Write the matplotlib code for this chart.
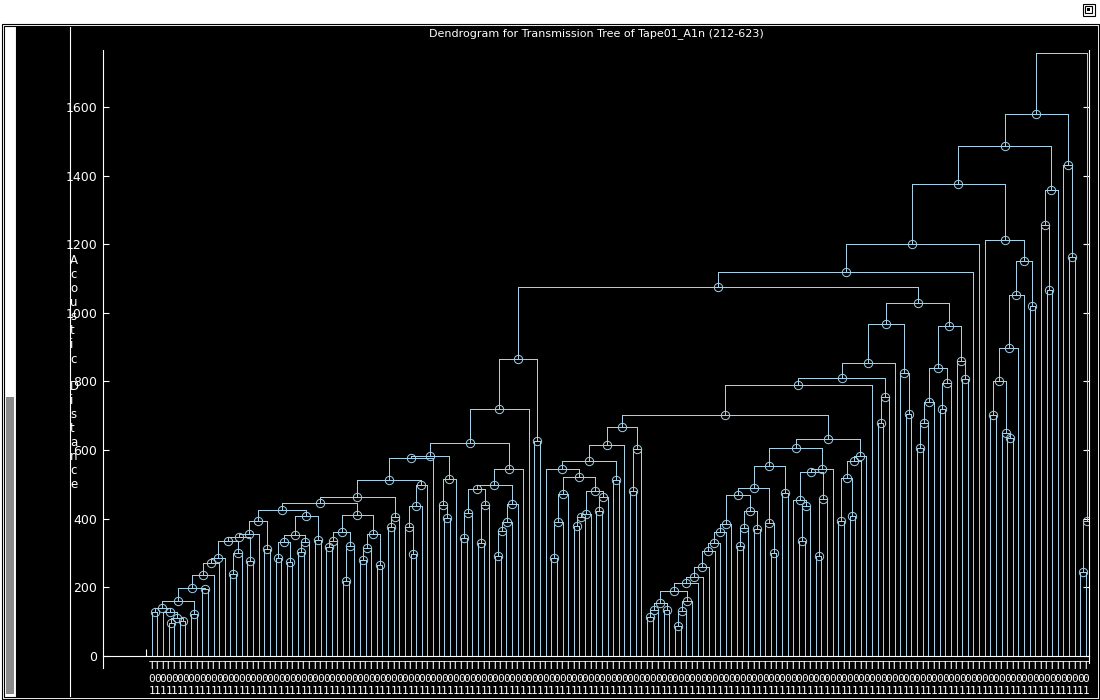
import matplotlib
matplotlib.use("Agg")
import matplotlib.pyplot as plt
import matplotlib.transforms as mtransforms
from matplotlib import font_manager
from matplotlib.collections import LineCollection
from matplotlib.patches import Rectangle

TITLE = "Dendrogram for Transmission Tree of Tape01_A1n (212-623)"
Y_LABEL = "Acoustic Distance"
Y_TICKS = [0, 200, 400, 600, 800, 1000, 1200, 1400, 1600]
LEAF_LABEL_ROWS = ["T", "0", "1"]

# merges: (node, left child, right child, merge height); "L" = a leaf
MERGES_A = [
    ("a1", "L", "L", 129), ("a2", "L", "L", 95), ("a3", "L", "L", 103),
    ("a4", "a2", "a3", 110), ("a5", "L", "a4", 129), ("a6", "a1", "a5", 140),
    ("a7", "L", "L", 121), ("a8", "a6", "a7", 160), ("a9", "L", "L", 195),
    ("a10", "a8", "a9", 198), ("a11", "a10", "L", 236), ("a12", "a11", "L", 270),
    ("a13", "a12", "L", 285), ("a14", "L", "L", 238), ("a15", "a14", "L", 300),
    ("a16", "a13", "a15", 334), ("a17", "L", "L", 277), ("a18", "a16", "a17", 348),
    ("a19", "a18", "L", 355), ("a20", "L", "L", 311), ("a21", "a19", "a20", 393),
    ("a22", "L", "L", 285), ("a23", "L", "L", 273), ("a24", "a22", "a23", 331),
    ("a25", "L", "L", 302), ("a26", "a25", "L", 331), ("a27", "a24", "a26", 353),
    ("a28", "L", "L", 338), ("a29", "a27", "a28", 409), ("a30", "a21", "a29", 425),
    ("a31", "L", "L", 319), ("a32", "a31", "L", 336), ("a33", "L", "L", 219),
    ("a34", "a33", "L", 322), ("a35", "a32", "a34", 362), ("a36", "L", "L", 279),
    ("a37", "a36", "L", 316), ("a38", "L", "L", 265), ("a39", "a37", "a38", 355),
    ("a40", "a35", "a39", 411), ("a41", "a30", "a40", 445), ("a42", "L", "L", 377),
    ("a43", "a42", "L", 404), ("a44", "a41", "a43", 462), ("a45", "L", "L", 297),
    ("a46", "L", "a45", 375), ("a47", "a46", "L", 437), ("a48", "a47", "L", 497),
    ("a49", "a44", "a48", 513), ("a50", "a49", "L", 576), ("a51", "L", "L", 401),
    ("a52", "L", "a51", 439), ("a53", "a52", "L", 515), ("a54", "a50", "a53", 583),
    ("a55", "L", "L", 344), ("a56", "a55", "L", 418), ("a57", "L", "L", 328),
    ("a58", "a57", "L", 439), ("a59", "a56", "a58", 486), ("a60", "L", "L", 292),
    ("a61", "a60", "L", 364), ("a62", "a61", "L", 391), ("a63", "a62", "L", 442),
    ("a64", "a59", "a63", 497), ("a65", "a64", "L", 544), ("a66", "a54", "a65", 620),
    ("a67", "a66", "L", 719), ("a68", "L", "L", 626), ("a69", "a67", "a68", 865),
]

MERGES_B1 = [
    ("b1", "L", "L", 285), ("b2", "b1", "L", 391), ("b3", "b2", "L", 472),
    ("b4", "L", "L", 380), ("b5", "b4", "L", 404), ("b6", "b5", "L", 413),
    ("b7", "L", "L", 423), ("b8", "b7", "L", 462), ("b9", "b6", "b8", 481),
    ("b10", "b3", "b9", 521), ("b11", "L", "b10", 544), ("b12", "L", "L", 513),
    ("b13", "b11", "b12", 568), ("b14", "b13", "L", 614), ("b15", "L", "L", 481),
    ("b16", "b15", "L", 602), ("b17", "b14", "b16", 666),
]

MERGES_B2 = [
    ("c1", "L", "L", 113), ("c2", "c1", "L", 134), ("c3", "L", "L", 134),
    ("c4", "c2", "c3", 155), ("c5", "L", "L", 88), ("c6", "c5", "L", 132),
    ("c7", "c6", "L", 161), ("c8", "c4", "c7", 190), ("c9", "c8", "L", 214),
    ("c10", "c9", "L", 231), ("c11", "c10", "L", 258), ("c12", "c11", "L", 306),
    ("c13", "c12", "L", 328), ("c14", "c13", "L", 362), ("c15", "c14", "L", 385),
    ("c16", "L", "L", 321), ("c17", "c16", "L", 372), ("c18", "L", "L", 369),
    ("c19", "c17", "c18", 423), ("c20", "c15", "c19", 469), ("c21", "L", "L", 299),
    ("c22", "L", "c21", 388), ("c23", "c20", "c22", 489), ("c24", "L", "L", 476),
    ("c25", "c23", "c24", 554), ("c26", "L", "L", 334), ("c27", "c26", "L", 437),
    ("c28", "L", "c27", 455), ("c29", "L", "L", 291), ("c30", "c29", "L", 457),
    ("c31", "c28", "c30", 536), ("c32", "c31", "L", 544), ("c33", "c25", "c32", 605),
    ("c34", "L", "L", 394), ("c35", "L", "L", 408), ("c36", "c34", "c35", 518),
    ("c37", "c36", "L", 568), ("c38", "c37", "L", 583), ("c39", "c33", "c38", 631),
]

MERGES_TOP = [
    ("r1", "b17", "c39", 702), ("r2", "r1", "L", 790), ("r3", "L", "L", 678),
    ("r4", "r3", "L", 756), ("r5", "r2", "r4", 809), ("r6", "r5", "L", 853),
    ("r7", "L", "L", 704), ("r8", "L", "r7", 824), ("r9", "r6", "r8", 967),
    ("r10", "L", "L", 607), ("r11", "r10", "L", 680), ("r12", "r11", "L", 741),
    ("r13", "L", "L", 719), ("r14", "r13", "L", 795), ("r15", "r12", "r14", 838),
    ("r16", "L", "L", 807), ("r17", "L", "r16", 859), ("r18", "r15", "r17", 961),
    ("r19", "r9", "r18", 1030), ("r20", "a69", "r19", 1075), ("r21", "r20", "L", 1120),
    ("r22", "r21", "L", 1200), ("r23", "L", "L", 702), ("r24", "L", "L", 636),
    ("r25", "L", "r24", 649), ("r26", "r23", "r25", 802), ("r27", "r26", "L", 897),
    ("r28", "r27", "L", 1052), ("r29", "L", "L", 1020), ("r30", "r28", "r29", 1152),
    ("r31", "L", "r30", 1212), ("r32", "r22", "r31", 1375), ("r33", "L", "L", 1068),
    ("r34", "L", "r33", 1256), ("r35", "r34", "L", 1358), ("r36", "r32", "r35", 1486),
    ("r37", "L", "L", 1163), ("r38", "L", "r37", 1432), ("r39", "r36", "r38", 1579),
    ("r40", "L", "L", 245), ("r41", "r40", "L", 393), ("root", "r39", "r41", 1757),
]
ROOT = "root"

LINE_COLOR = "#a3d0e6"
W, H = 1100, 700

# ---------------- tree layout ----------------
nodes = {n: (l, r, h) for n, l, r, h in MERGES_A + MERGES_B1 + MERGES_B2 + MERGES_TOP}
counter = [0]
segs, circ_x, circ_y = [], [], []


def layout(name):
    if name == "L":
        x = counter[0]
        counter[0] += 1
        return float(x), 0.0
    left, right, h = nodes[name]
    xl, hl = layout(left)
    xr, hr = layout(right)
    segs.append([(xl, h), (xr, h)])
    segs.append([(xl, hl), (xl, h)])
    segs.append([(xr, hr), (xr, h)])
    x = (xl + xr) / 2.0
    if name != ROOT:
        circ_x.append(x)
        circ_y.append(h)
    return x, h


layout(ROOT)
n_leaves = counter[0]


def pick_font(cands):
    for c in cands:
        try:
            font_manager.findfont(c, fallback_to_default=False)
            return c
        except Exception:
            continue
    return "DejaVu Sans"


NARROW = pick_font(["Liberation Sans Narrow", "DejaVu Sans Condensed", "DejaVu Sans Mono"])

# ---------------- figure ----------------
fig = plt.figure(figsize=(11, 7), dpi=100, facecolor="white")

bg = fig.add_axes([0, 0, 1, 1], zorder=0)
bg.set_xlim(0, W)
bg.set_ylim(H, 0)
bg.axis("off")
bg.add_patch(Rectangle((1.5, 23.5), 1097, 675.5, fill=False, ec="black", lw=0.8))
bg.add_patch(Rectangle((3.5, 25.5), 1093, 671.5, fill=False, ec="black", lw=0.8))
bg.add_patch(Rectangle((17, 27), 1080, 669.5, fc="black", ec="none"))
bg.add_patch(Rectangle((5.5, 397), 8.5, 297, fc="#8a8a8a", ec="none"))
bg.plot([15.5, 15.5], [27, 696], color="black", lw=0.8)
bg.plot([69.5, 69.5], [27, 696], color="white", lw=0.8)
bg.plot([103, 103], [656, 668], color="white", lw=0.8)
bg.plot([1089, 1089], [656, 663], color="white", lw=0.8)
# window icon (top right)
bg.add_patch(Rectangle((1082.5, 3.5), 12, 12, fill=False, ec="black", lw=0.8))
bg.add_patch(Rectangle((1085, 6), 7, 7, fill=False, ec="black", lw=0.8))
bg.add_patch(Rectangle((1087, 8), 3, 3, fc="black", ec="none"))

# main axes: pixel box x 103..1089, y 50..656
ax = fig.add_axes([103 / W, 1 - 656 / H, (1089 - 103) / W, (656 - 50) / H], zorder=1)
ax.set_facecolor("black")
x0_px, dx_px = 151.7, 5.628
ax.set_xlim(-(x0_px - 103) / dx_px, (1089 - x0_px) / dx_px)
ax.set_ylim(0, (656 - 50) / (549 / 1600))

lc = LineCollection(segs, colors=LINE_COLOR, linewidths=0.6, antialiased=False)
lc.set_snap(True)
ax.add_collection(lc)
ax.plot(circ_x, circ_y, "o", ms=6, mfc="none", mec=LINE_COLOR, mew=0.7, ls="none")

for s in ["left", "bottom", "right"]:
    ax.spines[s].set_color("white")
    ax.spines[s].set_linewidth(0.8)
ax.spines["top"].set_visible(False)

ax.set_yticks(Y_TICKS)
ax.set_yticklabels([str(v) for v in Y_TICKS])
ax.tick_params(axis="y", direction="in", length=4.5, width=0.8, color="white",
               labelcolor="white", labelsize=9, pad=4, right=True, labelright=False)
ax.set_xticks([-1])
ax.set_xticklabels([""])
ax.tick_params(axis="x", direction="in", length=5, width=0.8, color="white")

# leaf labels (stacked characters below each leaf)
trans = mtransforms.blended_transform_factory(ax.transData, fig.transFigure)
row_y = [666, 679, 691]
for i in range(n_leaves):
    if x0_px + dx_px * i > 1090:
        continue
    for ch, py in zip(LEAF_LABEL_ROWS, row_y):
        ax.text(i, 1 - py / H, ch, transform=trans, color="white", fontsize=8,
                family=NARROW, ha="center", va="center", clip_on=False)

# title
fig.text(596 / W, 1 - 34 / H, TITLE, color="white", fontsize=8, ha="center", va="center")

# vertical y label, one letter per line
for k, ch in enumerate(Y_LABEL):
    if ch == " ":
        continue
    fig.text(70 / W, 1 - (261 + 14 * k) / H, ch, color="white", fontsize=8.5,
             ha="left", va="center")

fig.savefig("out.png", dpi=100, facecolor="white")
